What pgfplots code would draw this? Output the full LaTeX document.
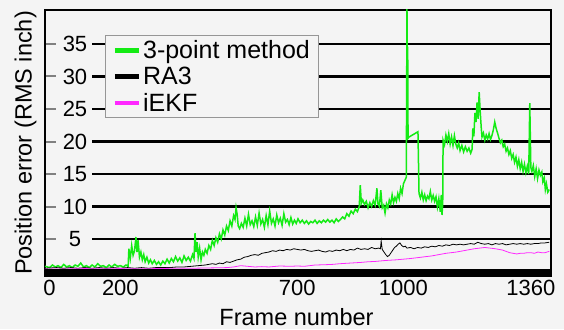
\documentclass[border=0pt]{standalone}
\usepackage{fontspec}
\setmainfont{Liberation Sans}
\usepackage{pgfplots}
\pgfplotsset{compat=1.18}
\definecolor{bg}{RGB}{244,244,244}
\definecolor{pgreen}{RGB}{20,235,20}
\definecolor{pmag}{RGB}{255,40,255}
\definecolor{lgray}{RGB}{150,150,150}
\begin{document}
\begin{tikzpicture}
\fill[bg] (-45pt,-53pt) rectangle (519pt,276pt);
\begin{axis}[
  scale only axis, width=506pt, height=266pt,
  xmin=-13, xmax=1417, ymin=-0.69, ymax=40.23,
  axis background/.style={fill=bg},
  axis line style={line width=2.2pt},
  xtick={0,200,700,1000,1360},
  xtick style={draw=none},
  ytick={5,10,15,20,25,30,35},
  ytick pos=left,
  tick align=inside,
  ytick style={line width=2pt},
  major tick length=11pt,
  /pgf/number format/assume math mode=true,
  /pgf/number format/set thousands separator={},
  tick label style={font=\fontsize{22}{24}\selectfont},
  yticklabel style={anchor=center, xshift=30pt},
  xticklabel style={yshift=-1pt},
  xlabel={Frame number},
  ylabel={Position error (RMS inch)},
  label style={font=\fontsize{23.5}{26}\selectfont},
  xlabel style={at={(axis description cs:0.497,0)}, anchor=center, yshift=-41pt},
  ylabel style={at={(axis description cs:-0.0385,0.5)}, anchor=center},
  legend style={at={(rel axis cs:0.1186,0.906)}, anchor=north west,
    draw=lgray, line width=1.2pt, fill=bg,
    font=\fontsize{25}{27}\selectfont, inner xsep=7pt, inner ysep=3pt, row sep=3pt},
  legend cell align=left,
  legend image code/.code={\draw[#1, line width=4.5pt] (0pt,0pt) -- (24pt,0pt);},
]
\pgfplotsinvokeforeach{5,10,15,20,25,30,35}{
  \draw[line width=2.5pt, black] (axis cs:120,#1) -- (axis cs:1417,#1);
}
\addplot[pgreen, line width=1.5pt] coordinates {
(-13,0.8)(0,0.6)(8,1.0)(16,0.7)(24,0.9)(32,0.6)(40,1.1)(48,0.7)(56,0.9)(64,0.6)(72,1.0)(80,0.8)(88,1.3)(96,0.7)(104,0.9)(112,0.6)(120,1.0)(128,0.7)(136,1.2)(144,0.8)(152,0.9)(160,0.6)(168,1.0)(176,0.7)(184,1.1)(192,0.8)(200,0.9)(208,0.7)(216,1.0)(222,0.8)
(224,3.5)(228,2.0)(232,4.0)(236,2.5)(240,3.2)(244,5.3)(247,3.0)(250,4.8)(254,2.2)(258,3.0)(262,1.8)(266,2.6)(270,1.5)(275,2.2)(280,1.3)(285,1.8)(290,1.2)(296,1.7)(302,1.1)(308,1.5)(314,1.0)(320,1.6)(326,1.2)(332,1.9)(338,1.3)(344,2.0)(350,1.5)(356,2.3)(362,1.6)(368,2.1)(374,1.4)(380,2.4)(386,1.7)(392,2.2)(398,1.6)(404,2.6)(408,2.0)(411,5.9)(414,3.0)(417,4.5)(420,2.2)(424,3.6)(428,1.8)(432,3.0)(436,2.5)(440,3.4)(445,2.8)(450,4.0)(455,3.4)(460,4.8)(465,4.0)(470,5.2)(475,4.5)(480,5.8)(485,5.0)(490,6.4)(495,5.6)(500,7.0)(505,6.3)(510,7.8)(515,7.0)(520,8.6)(524,8.0)(527,9.8)(530,8.8)(533,7.0)(537,6.6)(542,7.4)(547,6.8)(552,8.2)(557,7.0)(562,8.8)(567,7.2)(572,7.8)(577,6.9)(582,8.4)(587,7.1)(592,9.0)(597,7.3)(602,8.0)(607,6.8)(612,8.6)(617,7.2)(622,9.3)(627,7.4)(632,8.1)(637,7.0)(642,8.7)(647,7.5)(652,8.2)(657,7.1)(662,8.9)(667,7.6)(672,8.0)(677,7.2)(682,8.3)(687,7.3)(692,7.9)(697,7.4)(702,8.1)(708,7.5)(714,7.9)(720,7.4)(726,7.8)(732,7.3)(738,7.7)(744,7.5)(750,7.9)(756,7.4)(762,7.8)(768,7.5)(774,7.9)(780,7.6)(786,8.0)(792,7.6)(798,7.9)(804,7.5)(810,8.1)(816,7.7)(822,8.0)(828,8.4)(834,8.1)(840,8.9)(846,8.5)(852,9.3)(858,8.9)(864,9.6)(870,9.2)(875,10.0)(878,13.3)(881,10.5)(885,11.0)(890,10.3)(895,10.8)(900,9.8)(905,10.6)(910,10.0)(915,10.9)(920,10.2)(925,12.8)(928,10.4)(932,10.0)(936,12.5)(940,9.8)(944,10.2)(948,9.0)(952,10.4)(956,9.8)(960,11.0)(964,10.4)(968,11.8)(972,10.6)(976,11.4)(980,10.8)(984,12.0)(988,11.2)(992,12.8)(996,12.0)(1000,13.5)(1004,14.0)(1008,14.5)(1010,40.5)(1011,20.3)(1012,34.6)(1013,20.5)(1016,20.7)(1041,21.5)(1044,12.0)
(1048,11.3)(1052,12.2)(1056,11.0)(1060,11.8)(1064,10.9)(1068,11.6)(1072,11.2)(1076,12.3)(1080,11.0)(1084,11.7)(1088,10.8)(1092,11.5)(1096,9.9)(1100,11.2)(1104,9.2)(1107,11.8)(1109,8.7)(1111,10.5)(1112,20.2)(1116,19.5)(1120,21.0)(1124,20.0)(1128,21.2)(1132,19.6)(1136,20.7)(1140,19.4)(1144,20.9)(1148,19.6)(1152,19.0)(1156,19.8)(1160,18.6)(1165,19.4)(1170,18.4)(1175,19.2)(1180,18.5)(1185,19.0)(1190,18.2)(1194,18.8)(1196,22.0)(1199,20.8)(1202,24.4)(1205,23.0)(1208,26.0)(1211,23.5)(1214,27.6)(1217,24.5)(1220,22.0)(1222,20.7)(1226,21.3)(1230,20.2)(1234,21.0)(1238,20.4)(1242,21.2)(1246,20.3)(1250,20.9)(1254,21.8)(1258,23.0)(1262,22.0)(1266,21.3)(1270,20.5)(1274,19.8)(1278,20.2)(1282,19.2)(1286,19.6)(1290,18.5)(1294,19.0)(1298,18.0)(1302,18.6)(1306,17.4)(1310,18.0)(1314,16.8)(1318,17.6)(1322,16.2)(1326,17.2)(1330,15.8)(1334,16.8)(1338,15.4)(1342,16.5)(1346,15.2)(1350,16.2)(1354,15.0)(1357,25.9)(1360,16.0)(1363,15.4)(1367,16.3)(1371,14.6)(1375,15.8)(1379,14.3)(1383,15.6)(1387,14.8)(1391,15.3)(1394,13.8)(1398,14.4)(1401,12.6)(1404,13.5)(1408,12.2)(1412,12.6)
};
\addlegendentry{3-point method}
\addplot[black, line width=0.8pt] coordinates {
(-13,0.5)(20,0.6)(40,0.5)(60,0.6)(80,0.5)(100,0.6)(120,0.5)(140,0.6)(160,0.5)(180,0.6)(200,0.5)(220,0.6)(240,0.5)(260,0.6)(280,0.5)(300,0.6)(320,0.6)(340,0.6)(360,0.7)(380,0.7)(400,0.8)(420,0.9)(440,1.0)(460,1.2)(470,1.1)(480,1.3)(490,1.2)(500,1.5)(510,1.4)(520,1.6)(530,1.8)(540,1.9)(550,2.2)(560,2.3)(570,2.5)(580,2.6)(590,2.5)(600,2.8)(610,2.9)(620,3.0)(630,3.2)(640,3.1)(650,3.3)(660,3.2)(670,3.4)(680,3.3)(690,3.5)(700,3.4)(710,3.3)(720,3.4)(730,3.2)(740,3.1)(750,3.2)(760,3.3)(770,3.1)(780,3.0)(790,3.2)(800,3.1)(810,3.3)(820,3.2)(830,3.4)(840,3.2)(850,3.4)(860,3.3)(870,3.6)(880,3.4)(890,3.5)(900,3.4)(910,3.7)(920,3.5)(930,3.6)(935,3.5)(937,4.7)(940,3.4)(945,3.0)(950,2.6)(955,2.3)(960,2.5)(965,2.9)(970,3.3)(975,3.7)(980,3.9)(985,4.2)(990,4.4)(995,4.0)(1000,3.8)(1005,3.9)(1010,3.6)(1020,3.7)(1030,3.5)(1040,3.7)(1050,3.6)(1060,3.8)(1070,3.7)(1080,3.9)(1090,3.8)(1100,4.0)(1110,3.9)(1120,4.1)(1130,4.0)(1140,4.2)(1150,4.1)(1160,4.2)(1170,4.1)(1180,4.2)(1190,4.3)(1200,4.2)(1210,4.5)(1220,4.3)(1230,4.2)(1240,4.3)(1250,4.1)(1260,4.3)(1270,4.2)(1280,4.3)(1290,4.1)(1300,4.2)(1310,4.3)(1320,4.2)(1330,4.3)(1340,4.2)(1350,4.3)(1360,4.2)(1370,4.3)(1380,4.3)(1390,4.4)(1400,4.4)(1412,4.5)
};
\addlegendentry{RA3}
\addplot[pmag, line width=0.8pt] coordinates {
(-13,0.4)(50,0.4)(100,0.45)(150,0.4)(200,0.45)(250,0.4)(300,0.45)(350,0.5)(400,0.5)(450,0.55)(500,0.6)(520,0.7)(540,0.9)(560,0.8)(580,0.7)(600,0.75)(620,0.7)(650,0.85)(680,0.8)(700,0.85)(720,0.8)(750,1.0)(780,1.05)(800,1.1)(820,1.2)(850,1.3)(880,1.4)(900,1.5)(920,1.55)(950,1.7)(980,1.8)(1000,1.9)(1020,2.0)(1050,2.2)(1080,2.4)(1100,2.6)(1120,2.8)(1150,3.0)(1180,3.3)(1200,3.5)(1215,3.6)(1230,3.7)(1245,3.6)(1260,3.5)(1270,3.4)(1280,3.3)(1290,3.1)(1300,2.9)(1310,2.8)(1320,2.7)(1330,2.8)(1340,2.8)(1350,2.9)(1360,2.9)(1370,2.8)(1380,3.0)(1390,2.9)(1400,2.9)(1412,3.1)
};
\addlegendentry{iEKF}
\fill[black] (rel axis cs:0,0) rectangle ([yshift=7pt]rel axis cs:1,0);
\end{axis}
\pgfresetboundingbox
\path (-45pt,-53pt) rectangle (519pt,276pt);
\end{tikzpicture}
\end{document}
